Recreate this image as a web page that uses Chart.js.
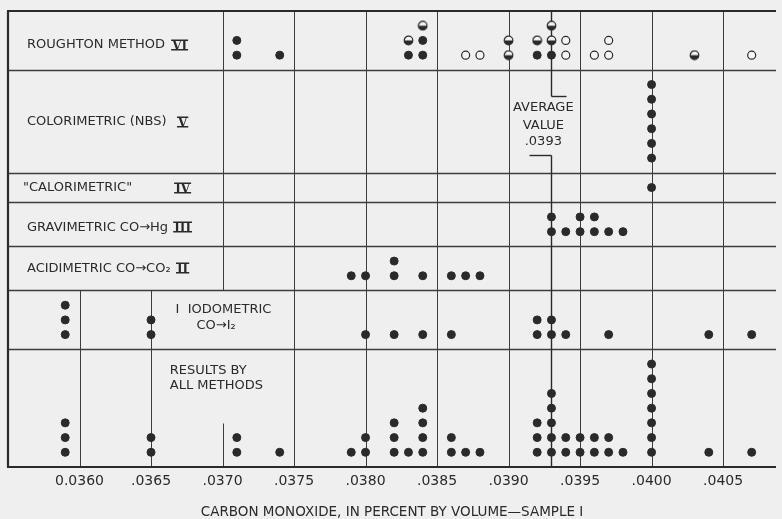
<!DOCTYPE html>
<html>
<head>
<meta charset="utf-8">
<script src="https://cdn.jsdelivr.net/npm/chart.js@4.4.0/dist/chart.umd.min.js"></script>
<style>
  html, body { margin: 0; padding: 0; background: #efefef; }
  #chart { display: block; }
</style>
</head>
<body>
<canvas id="chart" width="782" height="519"></canvas>
<script>
// results, percent CO by volume, one entry per determination
var roughtonFilled = [0.0371, 0.0371, 0.0374, 0.0383, 0.0384, 0.0384, 0.0392, 0.0393];
var roughtonHalf = [0.0383, 0.0384, 0.0390, 0.0390, 0.0392, 0.0393, 0.0393, 0.0403];
var roughtonOpen = [0.0387, 0.0388, 0.0394, 0.0394, 0.0396, 0.0397, 0.0397, 0.0407];
var colorimetric = [0.0400, 0.0400, 0.0400, 0.0400, 0.0400, 0.0400];
var calorimetric = [0.0400];
var gravimetric = [0.0393, 0.0393, 0.0394, 0.0395, 0.0395, 0.0396, 0.0396, 0.0397, 0.0398];
var acidimetric = [0.0379, 0.0380, 0.0382, 0.0382, 0.0384, 0.0386, 0.0387, 0.0388];
var iodometric = [0.0359, 0.0359, 0.0359, 0.0365, 0.0365, 0.0380, 0.0382, 0.0384, 0.0386,
                  0.0392, 0.0392, 0.0393, 0.0393, 0.0394, 0.0397, 0.0404, 0.0407];
var averageValue = 0.0393;

var tickValues = [0.0360, 0.0365, 0.0370, 0.0375, 0.0380, 0.0385, 0.0390, 0.0395, 0.0400, 0.0405];
var tickLabels = ['0.0360', '.0365', '.0370', '.0375', '.0380', '.0385', '.0390', '.0395', '.0400', '.0405'];

var methodNames = ['ROUGHTON METHOD', 'COLORIMETRIC (NBS)', '"CALORIMETRIC"', 'GRAVIMETRIC CO\u2192Hg', 'ACIDIMETRIC CO\u2192CO\u2082'];
var methodNumerals = ['VI', 'V', 'IV', 'III', 'II'];

// layout of the bands, in dot steps from the bottom
var rowLines = [8, 12, 15, 18, 20, 27];
var yTop = 31;
var ink = '#2a2a2a';
var lineInk = '#3c3c3c';

// stack repeated values upwards from the band's bottom
function stack(values, base, counter) {
    counter = counter || {};
    return values.map(function (v) {
        var k = v.toFixed(4);
        counter[k] = (counter[k] || 0) + 1;
        return { x: v, y: base + counter[k] };
    });
}

var rc = {};
var roughtonF = stack(roughtonFilled, 27, rc);
var roughtonH = stack(roughtonHalf, 27, rc);
var roughtonO = stack(roughtonOpen, 27, rc);
var allValues = [].concat(roughtonFilled, colorimetric, calorimetric, gravimetric, acidimetric, iodometric);

var filledPoints = [].concat(
    roughtonF,
    stack(colorimetric, 20),
    stack(calorimetric, 18),
    stack(gravimetric, 15),
    stack(acidimetric, 12),
    stack(iodometric, 8),
    stack(allValues, 0)
);

// half-filled marker: light top, dark bottom
function halfDot() {
    var c = document.createElement('canvas');
    c.width = 11; c.height = 11;
    var g = c.getContext('2d');
    g.beginPath(); g.arc(5.5, 5.5, 4.3, 0, Math.PI * 2);
    g.fillStyle = '#f4f4f4'; g.fill();
    g.beginPath(); g.arc(5.5, 5.5, 4.3, 0, Math.PI);
    g.fillStyle = ink; g.fill();
    g.beginPath(); g.arc(5.5, 5.5, 4.3, 0, Math.PI * 2);
    g.lineWidth = 1.2; g.strokeStyle = ink; g.stroke();
    return c;
}

var frame = {
    id: 'frame',
    beforeDatasetsDraw: function (chart) {
        var ctx = chart.ctx, xs = chart.scales.x, ys = chart.scales.y, a = chart.chartArea;
        function px(v) { return Math.round(xs.getPixelForValue(v)) + 0.5; }
        function py(v) { return Math.round(ys.getPixelForValue(v)) + 0.5; }
        function seg(x1, y1, x2, y2) { ctx.beginPath(); ctx.moveTo(x1, y1); ctx.lineTo(x2, y2); ctx.stroke(); }
        ctx.save();
        ctx.strokeStyle = lineInk;
        ctx.lineWidth = 1;
        var vlines = [[0.0360, 0, 12], [0.0365, 0, 12], [0.0370, 0, 3], [0.0370, 12, yTop]];
        tickValues.slice(3).forEach(function (v) { vlines.push([v, 0, yTop]); });
        vlines.forEach(function (s) { seg(px(s[0]), py(s[1]), px(s[0]), py(s[2])); });
        ctx.lineWidth = 1.3;
        rowLines.forEach(function (r) { seg(a.left, py(r), a.right, py(r)); });
        // average value marker
        ctx.strokeStyle = ink;
        ctx.lineWidth = 1.4;
        var ax = px(averageValue);
        seg(ax, py(yTop), ax, py(25.2));
        seg(ax, py(25.2), px(0.03940), py(25.2));
        seg(px(0.03914), py(21.2), ax, py(21.2));
        seg(ax, py(21.2), ax, py(0));
        // outer frame
        ctx.lineWidth = 2.2;
        seg(a.left - 1, a.top, a.right, a.top);
        seg(a.left, a.top, a.left, a.bottom);
        seg(a.left - 1, a.bottom, a.right, a.bottom);
        ctx.restore();
    },
    afterDatasetsDraw: function (chart) {
        var ctx = chart.ctx, xs = chart.scales.x, ys = chart.scales.y;
        function px(v) { return xs.getPixelForValue(v); }
        function py(v) { return ys.getPixelForValue(v); }
        ctx.save();
        ctx.fillStyle = ink;
        ctx.textBaseline = 'middle';
        ctx.font = '13px "DejaVu Sans"';
        var labelY = [28.7, 23.45, 19.0, 16.3, 13.5];
        var labelX = [0.035633, 0.035633, 0.035605, 0.035633, 0.035633];
        methodNames.forEach(function (t, i) {
            ctx.textAlign = 'left';
            ctx.textBaseline = 'middle';
            ctx.font = '13px "DejaVu Sans"';
            ctx.fillText(t, px(labelX[i]), py(labelY[i]));
            // roman numeral with bars above and below
            ctx.textAlign = 'center';
            ctx.textBaseline = 'alphabetic';
            ctx.font = 'bold 12px "DejaVu Serif"';
            var cx = px(i === 0 ? 0.0367 : 0.036721), cy = Math.round(py(labelY[i]));
            ctx.fillText(methodNumerals[i], cx, cy + 4.5);
            var w = ctx.measureText(methodNumerals[i]).width + 2;
            ctx.fillRect(cx - w / 2, cy - 5.5, w, 1.5);
            ctx.fillRect(cx - w / 2, cy + 4, w, 1.5);
        });
        ctx.textBaseline = 'middle';
        ctx.textAlign = 'left';
        ctx.font = '13px "DejaVu Sans"';
        ctx.fillText('I  IODOMETRIC', px(0.036672), py(10.67));
        ctx.fillText('CO\u2192I\u2082', px(0.036818), py(9.59));
        ctx.fillText('RESULTS BY', px(0.036631), py(6.53));
        ctx.fillText('ALL METHODS', px(0.036631), py(5.5));
        ctx.textAlign = 'center';
        ctx.fillText('AVERAGE', px(0.039243), py(24.4));
        ctx.fillText('VALUE', px(0.039243), py(23.2));
        ctx.fillText('.0393', px(0.039243), py(22.1));
        ctx.restore();
    }
};

new Chart(document.getElementById('chart'), {
    type: 'scatter',
    data: {
        datasets: [
            {
                data: filledPoints,
                pointStyle: 'circle',
                pointRadius: 4,
                borderWidth: 1,
                backgroundColor: ink,
                borderColor: ink
            },
            {
                data: roughtonH,
                pointStyle: halfDot(),
                pointRadius: 5
            },
            {
                data: roughtonO,
                pointStyle: 'circle',
                pointRadius: 4,
                borderWidth: 1.2,
                backgroundColor: '#f4f4f4',
                borderColor: ink
            }
        ]
    },
    options: {
        responsive: false,
        devicePixelRatio: 1,
        animation: false,
        layout: { padding: { left: 8, top: 11, right: 0, bottom: 0 } },
        plugins: {
            legend: { display: false },
            tooltip: { enabled: false }
        },
        scales: {
            x: {
                type: 'linear',
                min: 0.0355,
                max: 0.04087,
                grid: { display: false, drawTicks: false },
                border: { display: false },
                afterBuildTicks: function (s) {
                    s.ticks = tickValues.map(function (v) { return { value: v }; });
                },
                afterFit: function (s) { s.height = 52; },
                ticks: {
                    padding: 6,
                    color: ink,
                    autoSkip: false,
                    maxRotation: 0,
                    font: { family: 'DejaVu Sans', size: 14 },
                    callback: function (v, i) { return tickLabels[i]; }
                },
                title: {
                    display: true,
                    text: 'CARBON MONOXIDE, IN PERCENT BY VOLUME\u2014SAMPLE I',
                    color: ink,
                    font: { family: 'DejaVu Sans', size: 13.5, lineHeight: 1 },
                    padding: { top: 0, bottom: 0 }
                }
            },
            y: {
                type: 'linear',
                display: false,
                min: 0,
                max: yTop
            }
        }
    },
    plugins: [frame]
});
</script>
</body>
</html>
